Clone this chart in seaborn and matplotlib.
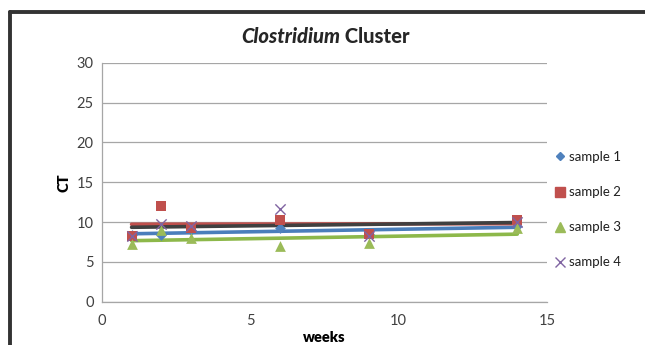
import matplotlib
matplotlib.use("Agg")
import matplotlib.pyplot as plt
from matplotlib.lines import Line2D
import seaborn as sns
import pandas as pd

weeks = [1, 2, 3, 6, 9, 14]
sample_1 = [8.4, 8.4, 9.0, 9.2, 8.5, 9.5]
sample_2 = [8.2, 12.0, 9.3, 10.2, 8.5, 10.3]
sample_3 = [7.2, 9.0, 8.0, 7.0, 7.4, 9.2]
sample_4 = [8.3, 9.7, 9.5, 11.6, 8.3, 10.0]
series_names = ["sample 1", "sample 2", "sample 3", "sample 4"]
y_ticks = [0, 5, 10, 15, 20, 25, 30]
x_ticks = [0, 5, 10, 15]

sns.set_theme(style="white")
plt.rcParams["font.family"] = ["Lato", "DejaVu Sans"]

frames = []
for name, vals in zip(series_names, [sample_1, sample_2, sample_3, sample_4]):
    frames.append(pd.DataFrame({"weeks": weeks, "CT": vals, "series": name}))
df = pd.concat(frames, ignore_index=True)

point_colors = ["#4F81BD", "#C0504D", "#9BBB59", "#8064A2"]
line_colors = ["#4A7EBB", "#C0504D", "#8DB84A", "#404040"]
markers = ["D", "s", "^", "x"]
sizes = [30, 55, 60, 55]

fig = plt.figure(figsize=(6.45, 3.45), dpi=100)
ax = fig.add_axes([0.158, 0.1255, 0.69, 0.6925])

for name, lc in zip(series_names, line_colors):
    sub = df[df["series"] == name]
    sns.regplot(data=sub, x="weeks", y="CT", ax=ax, scatter=False, ci=None,
                color=lc, line_kws={"linewidth": 2.6, "zorder": 2})
for name, pc, m, s in zip(series_names, point_colors, markers, sizes):
    sub = df[df["series"] == name]
    kw = {"linewidth": 1.0} if m == "x" else {"linewidth": 0}
    sns.scatterplot(data=sub, x="weeks", y="CT", ax=ax, marker=m, s=s,
                    color=pc, zorder=3, label=name, **kw)

ax.set_xlim(0, 15)
ax.set_ylim(0, 30)
ax.set_xticks(x_ticks)
ax.set_yticks(y_ticks)
ax.yaxis.grid(True, color="#A6A6A6", linewidth=0.9)
ax.xaxis.grid(False)
for side in ["top", "right"]:
    ax.spines[side].set_visible(False)
for side in ["left", "bottom"]:
    ax.spines[side].set_color("#A6A6A6")
    ax.spines[side].set_linewidth(0.9)
ax.tick_params(axis="both", length=0, labelsize=10.5, colors="#404040", pad=6)
ax.tick_params(axis="x", pad=9)
ax.set_xlabel("weeks", fontsize=10.5, fontweight="heavy", color="black", labelpad=2)
ax.set_ylabel("CT", fontsize=10.5, fontweight="heavy", color="black", labelpad=4)

handles = [
    Line2D([], [], linestyle="none", marker="D", markersize=4.5, color=point_colors[0]),
    Line2D([], [], linestyle="none", marker="s", markersize=6.5, color=point_colors[1]),
    Line2D([], [], linestyle="none", marker="^", markersize=6.5, color=point_colors[2]),
    Line2D([], [], linestyle="none", marker="x", markersize=6.5, color=point_colors[3],
           markeredgewidth=1.0),
]
ax.legend(handles, series_names, loc="center left", bbox_to_anchor=(1.0, 0.385),
          frameon=False, fontsize=9.5, labelspacing=1.75, handlelength=0.8,
          handletextpad=0.3, borderaxespad=0.2, labelcolor="#202020")

# Title with italic genus name followed by upright word
fig.canvas.draw()
renderer = fig.canvas.get_renderer()
t1 = fig.text(0, 0.895, "Clostridium", fontsize=14.5, fontweight="black",
              fontstyle="italic", va="center", ha="left")
t2 = fig.text(0, 0.895, " Cluster", fontsize=14.5, fontweight="black",
              va="center", ha="left")
w1 = t1.get_window_extent(renderer).width
w2 = t2.get_window_extent(renderer).width
W = fig.bbox.width
start = 0.505 - (w1 + w2) / 2 / W
t1.set_x(start)
t2.set_x(start + w1 / W)

# Outer chart frame
frame_kw = dict(color="#333333", linewidth=2.8, transform=fig.transFigure)
fig.add_artist(Line2D([10 / 645, 10 / 645], [0, 1 - 12 / 345], **frame_kw))
fig.add_artist(Line2D([10 / 645, 1.0], [1 - 12 / 345, 1 - 12 / 345], **frame_kw))

fig.savefig("out.png", dpi=100)
